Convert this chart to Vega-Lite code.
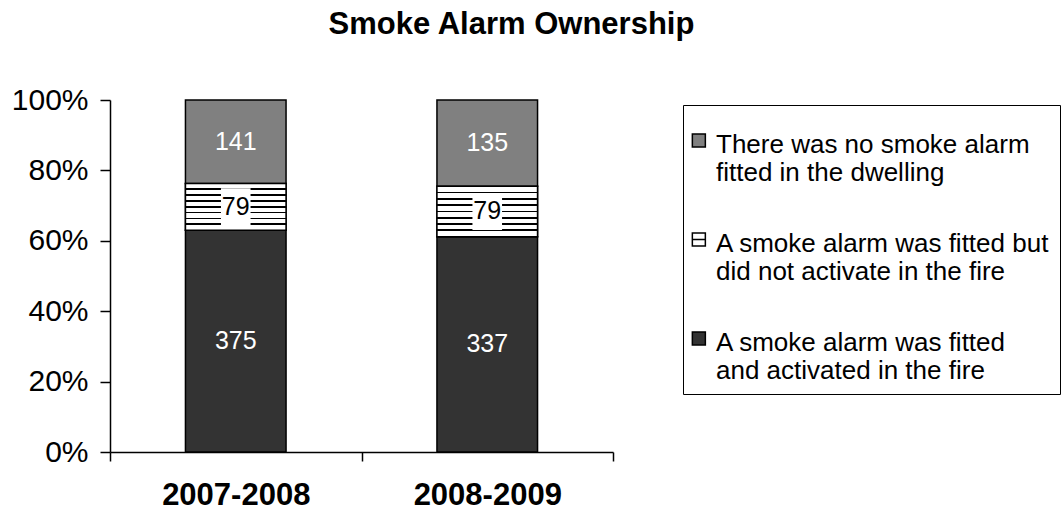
{
  "$schema": "https://vega.github.io/schema/vega-lite/v6.json",
  "width": 503,
  "height": 352,
  "autosize": {"type": "none"},
  "padding": {"left": 110, "top": 100, "right": 449, "bottom": 59},
  "title": {
    "text": "Smoke Alarm Ownership",
    "font": "Liberation Sans",
    "fontSize": 31,
    "fontWeight": "bold",
    "color": "black",
    "anchor": "middle",
    "dx": 150,
    "offset": 44
  },
  "config": {
    "view": {"stroke": null},
    "font": "Liberation Sans"
  },
  "data": {
    "values": [
      {"year": "2007-2008", "cat": "act", "count": 375, "ord": 1},
      {"year": "2007-2008", "cat": "noact", "count": 79, "ord": 2},
      {"year": "2007-2008", "cat": "none", "count": 141, "ord": 3},
      {"year": "2008-2009", "cat": "act", "count": 337, "ord": 1},
      {"year": "2008-2009", "cat": "noact", "count": 79, "ord": 2},
      {"year": "2008-2009", "cat": "none", "count": 135, "ord": 3}
    ]
  },
  "transform": [
    {"stack": "count", "groupby": ["year"], "sort": [{"field": "ord"}], "offset": "normalize", "as": ["y0", "y1"]},
    {"calculate": "(datum.y0 + datum.y1) / 2", "as": "ymid"}
  ],
  "encoding": {
    "x": {
      "field": "year",
      "type": "nominal",
      "scale": {"paddingInner": 0, "paddingOuter": 0},
      "axis": {
        "title": null,
        "labelAngle": 0,
        "labelFont": "Liberation Sans",
        "labelFontSize": 31,
        "labelFontWeight": "bold",
        "labelColor": "black",
        "labelPadding": 19,
        "tickBand": "extent",
        "tickSize": 9,
        "tickWidth": 1.5,
        "tickColor": "black",
        "domainColor": "black",
        "domainWidth": 1.5
      }
    }
  },
  "layer": [
    {
      "mark": {"type": "bar", "stroke": "black", "strokeWidth": 1.5, "width": {"band": 0.4}},
      "encoding": {
        "y": {
          "field": "y0",
          "type": "quantitative",
          "scale": {"domain": [0, 1]},
          "axis": {
            "title": null,
            "values": [0, 0.2, 0.4, 0.6, 0.8, 1],
            "format": ".0%",
            "grid": false,
            "labelFont": "Liberation Sans",
            "labelFontSize": 30,
            "labelColor": "black",
            "labelPadding": 12,
            "tickSize": 10,
            "tickWidth": 1.5,
            "tickColor": "black",
            "domainColor": "black",
            "domainWidth": 1.5
          }
        },
        "y2": {"field": "y1"},
        "color": {
          "field": "cat",
          "type": "nominal",
          "scale": {"domain": ["none", "noact", "act"], "range": ["#808080", "#ffffff", "#333333"]},
          "legend": {
            "title": " ",
            "orient": "none",
            "legendX": 573,
            "legendY": 5
          }
        }
      }
    },
    {
      "transform": [{"filter": "datum.cat === 'noact'"}],
      "mark": {
        "type": "bar",
        "stroke": "black",
        "strokeWidth": 1.5,
        "width": {"band": 0.4},
        "fill": {
          "gradient": "linear",
          "x1": 0, "y1": 0, "x2": 0, "y2": 1,
          "stops": [
            {"offset": 0, "color": "#ffffff"},
            {"offset": 0.107, "color": "#ffffff"}, {"offset": 0.107, "color": "#000000"}, {"offset": 0.143, "color": "#000000"}, {"offset": 0.143, "color": "#ffffff"},
            {"offset": 0.232, "color": "#ffffff"}, {"offset": 0.232, "color": "#000000"}, {"offset": 0.268, "color": "#000000"}, {"offset": 0.268, "color": "#ffffff"},
            {"offset": 0.357, "color": "#ffffff"}, {"offset": 0.357, "color": "#000000"}, {"offset": 0.393, "color": "#000000"}, {"offset": 0.393, "color": "#ffffff"},
            {"offset": 0.482, "color": "#ffffff"}, {"offset": 0.482, "color": "#000000"}, {"offset": 0.518, "color": "#000000"}, {"offset": 0.518, "color": "#ffffff"},
            {"offset": 0.607, "color": "#ffffff"}, {"offset": 0.607, "color": "#000000"}, {"offset": 0.643, "color": "#000000"}, {"offset": 0.643, "color": "#ffffff"},
            {"offset": 0.732, "color": "#ffffff"}, {"offset": 0.732, "color": "#000000"}, {"offset": 0.768, "color": "#000000"}, {"offset": 0.768, "color": "#ffffff"},
            {"offset": 0.857, "color": "#ffffff"}, {"offset": 0.857, "color": "#000000"}, {"offset": 0.893, "color": "#000000"}, {"offset": 0.893, "color": "#ffffff"},
            {"offset": 1, "color": "#ffffff"}
          ]
        }
      },
      "encoding": {
        "y": {"field": "y0", "type": "quantitative"},
        "y2": {"field": "y1"}
      }
    },
    {
      "transform": [{"filter": "datum.cat === 'noact'"}],
      "mark": {
        "type": "point",
        "filled": true,
        "fill": "white",
        "opacity": 1,
        "strokeWidth": 0,
        "shape": "M-0.8,-1H0.8V1H-0.8Z",
        "size": 1369
      },
      "encoding": {
        "y": {"field": "ymid", "type": "quantitative"}
      }
    },
    {
      "mark": {"type": "text", "font": "Liberation Sans", "fontSize": 25, "baseline": "middle", "align": "center"},
      "encoding": {
        "y": {"field": "ymid", "type": "quantitative"},
        "text": {"field": "count", "type": "quantitative"},
        "color": {"condition": {"test": "datum.cat === 'noact'", "value": "black"}, "value": "white"}
      }
    },
    {
      "mark": {"type": "point", "filled": true, "opacity": 0},
      "encoding": {
        "y": {"field": "ymid", "type": "quantitative"},
        "color": {"field": "cat", "type": "nominal"},
        "shape": {
          "field": "cat",
          "type": "nominal",
          "scale": {"domain": ["none", "noact", "act"], "range": ["M-2.1,0.3H-0.1V2.3H-2.1Z", "M-2.1,0.3H-0.1V2.3H-2.1Z M-2.1,1.3H-0.1", "M-2.1,0.3H-0.1V2.3H-2.1Z"]},
          "legend": {
            "title": " ",
            "titleFontSize": 4,
            "titlePadding": 0,
            "orient": "none",
            "legendX": 573,
            "legendY": 5,
            "padding": 10,
            "strokeColor": "black",
            "symbolOpacity": 1,
            "symbolSize": 169,
            "symbolStrokeColor": "black",
            "symbolStrokeWidth": 1.5,
            "labelFont": "Liberation Sans",
            "labelFontSize": 26,
            "labelColor": "black",
            "labelLimit": 420,
            "labelOffset": -3,
            "labelBaseline": "top",
            "rowPadding": 32,
            "labelExpr": "datum.value === 'none' ? ['There was no smoke alarm', 'fitted in the dwelling'] : datum.value === 'noact' ? ['A smoke alarm was fitted but', 'did not activate in the fire'] : ['A smoke alarm was fitted', 'and activated in the fire']"
          }
        }
      }
    }
  ]
}
